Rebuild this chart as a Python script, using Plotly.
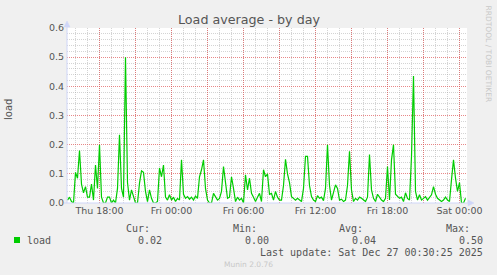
import plotly.graph_objects as go
from datetime import datetime, timedelta

# ---------------- data ----------------
series_name = "load"
start_time = datetime(2025, 12, 25, 15, 20)
step_minutes = 10
load = [
    0.01, 0.02, 0.005, 0.0, 0.105, 0.085, 0.18, 0.065, 0.035, 0.056,
    0.02, 0.02, 0.065, 0.01, 0.13, 0.05, 0.2, 0.02, 0.0, 0.0,
    0.02, 0.02, 0.0, 0.01, 0.0, 0.05, 0.234, 0.05, 0.02, 0.5,
    0.07, 0.01, 0.045, 0.02, 0.0, 0.0, 0.068, 0.11, 0.105, 0.04,
    0.005, 0.045, 0.016, 0.0, 0.0, 0.005, 0.12, 0.09, 0.13, 0.02,
    0.01, 0.028, 0.01, 0.02, 0.005, 0.016, 0.01, 0.148, 0.03, 0.016,
    0.022, 0.013, 0.02, 0.01, 0.024, 0.016, 0.09, 0.114, 0.148, 0.05,
    0.01, 0.0, 0.0, 0.033, 0.02, 0.01, 0.016, 0.04, 0.125, 0.06,
    0.016, 0.02, 0.09, 0.05, 0.005, 0.02, 0.01, 0.016, 0.0, 0.097,
    0.045, 0.085, 0.033, 0.02, 0.005, 0.02, 0.033, 0.005, 0.114, 0.09,
    0.1, 0.03, 0.033, 0.01, 0.04, 0.02, 0.01, 0.01, 0.06, 0.15,
    0.1, 0.07, 0.022, 0.016, 0.01, 0.016, 0.01, 0.005, 0.05, 0.16,
    0.16, 0.06, 0.022, 0.01, 0.005, 0.025, 0.016, 0.02, 0.008, 0.05,
    0.2, 0.06, 0.01, 0.033, 0.062, 0.05, 0.01, 0.013, 0.005, 0.01,
    0.06, 0.177, 0.045, 0.005, 0.016, 0.01, 0.02, 0.016, 0.01, 0.005,
    0.02, 0.166, 0.045, 0.016, 0.005, 0.03, 0.02, 0.01, 0.005, 0.016,
    0.125, 0.01, 0.148, 0.2, 0.03, 0.022, 0.016, 0.02, 0.005, 0.035,
    0.016, 0.01, 0.16, 0.435, 0.04, 0.01, 0.028, 0.01, 0.016, 0.022,
    0.01, 0.02, 0.028, 0.056, 0.03, 0.016, 0.01, 0.005, 0.01, 0.02,
    0.01, 0.005, 0.08, 0.148, 0.085, 0.04, 0.07, 0.0, 0.0, 0.016,
]
times = [start_time + timedelta(minutes=step_minutes * i) for i in range(len(load))]

stat_labels = ["Cur:", "Min:", "Avg:", "Max:"]
stat_values = ["0.02", "0.00", "0.04", "0.50"]
title_text = "Load average - by day"
last_update = "Last update: Sat Dec 27 00:30:25 2025"
footer = "Munin 2.0.76"
watermark = "RRDTOOL / TOBI OETIKER"

x_start = datetime(2025, 12, 25, 15, 17, 30)
x_end = datetime(2025, 12, 27, 0, 37, 30)
major_ticks = [datetime(2025, 12, 25, 18) + timedelta(hours=3 * i) for i in range(11)]
major_text = [t.strftime("%a %H:%M") if t.hour % 6 == 0 else "" for t in major_ticks]
minor_ticks = [datetime(2025, 12, 25, 16) + timedelta(hours=i) for i in range(33)]

# ---------------- layout helpers ----------------
W, H = 497, 275
L, R, T, B = 67, 467, 28, 203


def px(x):
    return (x - L) / (R - L)


def py(y):
    return (B - y) / (B - T)


FONT = "DejaVu Sans"
MONO = "DejaVu Sans Mono"
TXT = "#555555"
AXIS = "#CFD6F8"
GREEN = "#00CC00"
MGRID = "rgba(222,85,85,0.7)"
GRID = "rgba(160,160,160,0.45)"

fig = go.Figure()
fig.add_trace(go.Scatter(x=times, y=load, mode="lines",
                         line=dict(color=GREEN, width=1.2), hoverinfo="skip"))

fig.update_layout(
    width=W, height=H,
    margin=dict(l=L, r=W - R, t=T, b=H - B),
    paper_bgcolor="#F0F0F0", plot_bgcolor="#FFFFFF",
    showlegend=False,
    font=dict(family=FONT, size=9.5, color=TXT),
)
fig.update_xaxes(
    type="date", range=[x_start, x_end],
    tickmode="array", tickvals=major_ticks, ticktext=major_text,
    showgrid=True, gridcolor=MGRID, griddash="1px,1px", gridwidth=1,
    ticks="", showline=False, zeroline=False,
    tickfont=dict(family=FONT, size=9.5, color=TXT),
    minor=dict(tickmode="array", tickvals=minor_ticks, showgrid=True,
               gridcolor=GRID, griddash="1px,1px", gridwidth=1),
)
fig.update_yaxes(
    range=[0, 0.6], tickmode="linear", tick0=0, dtick=0.1, tickformat=".1f",
    showgrid=True, gridcolor=MGRID, griddash="1px,1px", gridwidth=1,
    ticks="", showline=False, zeroline=False, ticklabelstandoff=2,
    tickfont=dict(family=FONT, size=9.5, color=TXT),
    minor=dict(tick0=0, dtick=0.02, showgrid=True,
               gridcolor=GRID, griddash="1px,1px", gridwidth=1),
)

shapes = [
    # y axis line + arrow
    dict(type="line", xref="paper", yref="paper", x0=px(67), x1=px(67),
         y0=py(203), y1=py(25), line=dict(color=AXIS, width=1), layer="above"),
    dict(type="path", xref="paper", yref="paper",
         path=f"M {px(64)} {py(27)} L {px(70)} {py(27)} L {px(67)} {py(21)} Z",
         fillcolor=AXIS, line=dict(color=AXIS, width=0.5), layer="above"),
    # x axis line + arrow
    dict(type="line", xref="paper", yref="paper", x0=px(64), x1=px(470),
         y0=py(203), y1=py(203), line=dict(color=AXIS, width=1), layer="above"),
    dict(type="path", xref="paper", yref="paper",
         path=f"M {px(468)} {py(200)} L {px(468)} {py(206)} L {px(474)} {py(203)} Z",
         fillcolor=AXIS, line=dict(color=AXIS, width=0.5), layer="above"),
    # legend colour box
    dict(type="rect", xref="paper", yref="paper", x0=px(14), x1=px(20),
         y0=py(243), y1=py(237), fillcolor=GREEN, line=dict(width=0)),
]

ann = []


def text(x, y, s, anchor, size=10, family=MONO, color=TXT, angle=0):
    ann.append(dict(xref="paper", yref="paper", x=px(x), y=py(y), text=s,
                    showarrow=False, xanchor=anchor, yanchor="middle",
                    borderpad=0, borderwidth=0, textangle=angle,
                    font=dict(family=family, size=size, color=color)))


text(248.5, 19, title_text, "center", size=12.7, family=FONT)
text(9, 110, "load", "center", size=10, family=FONT, angle=-90)
text(488, 53.5, watermark, "center", size=7.5, family=FONT, color="#C8C8C8", angle=90)

stat_right = [150, 257, 363, 470]
val_right = [162, 269, 376, 483]
for lab, v, xr, xv in zip(stat_labels, stat_values, stat_right, val_right):
    text(xr, 228, lab, "right")
    text(xv, 240, v, "right")
text(27, 240, series_name, "left")
text(483, 252, last_update, "right")
text(248, 264, footer, "center", size=7.5, family=FONT, color="#C8C8C8")

fig.update_layout(shapes=shapes, annotations=ann)
fig.write_html("out.html")
